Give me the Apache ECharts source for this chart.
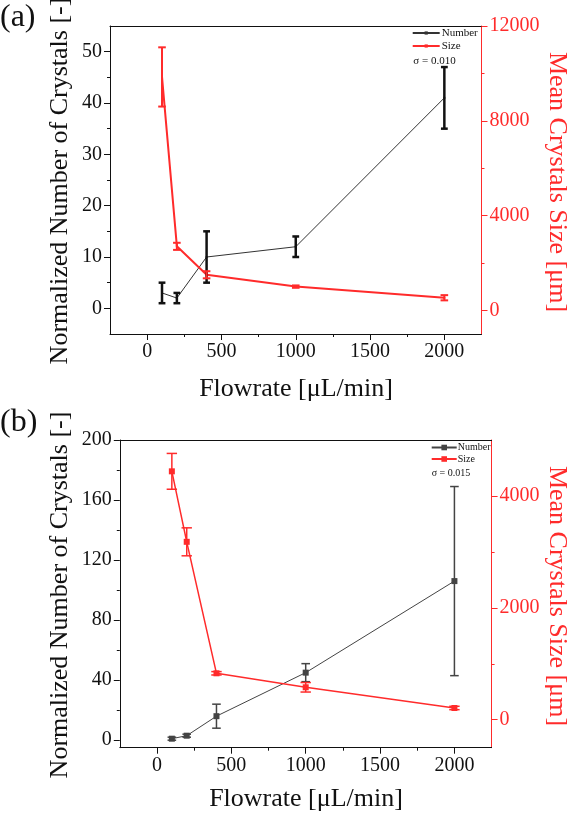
<!DOCTYPE html>
<html>
<head>
<meta charset="utf-8">
<script src="https://cdn.jsdelivr.net/npm/echarts@6/dist/echarts.min.js"></script>
<style>html,body{margin:0;padding:0;background:#fff}#c{width:569px;height:818px}</style>
</head>
<body>
<div id="c"></div>
<script>
// ---- data ----
const flow = [100, 200, 400, 1000, 2000];
// panel (a)
const numA = [3, 2, 10, 12, 41];
const numAErr = [2, 1, 5, 2, 6];
const sizeA = [9850, 2700, 1500, 1000, 530];
const sizeAErr = [1250, 150, 150, 50, 110];
// panel (b)
const numB = [1, 3, 16, 45, 106];
const numBErr = [1, 1, 8, 6, 63];
const sizeB = [4440, 3180, 830, 580, 210];
const sizeBErr = [320, 250, 30, 85, 30];
// ticks
const xTicks = [0, 500, 1000, 1500, 2000];
const xMinor = [250, 750, 1250, 1750];
const yTicksA = [0, 10, 20, 30, 40, 50];
const yMinorA = [5, 15, 25, 35, 45];
const y2TicksA = [0, 4000, 8000, 12000];
const y2MinorA = [2000, 6000, 10000];
const yTicksB = [0, 40, 80, 120, 160, 200];
const yMinorB = [20, 60, 100, 140, 180];
const y2TicksB = [0, 2000, 4000];
const y2MinorB = [1000, 3000];

const RED = '#ff2b2b';
const INK = '#111111';
const FONT = 'Liberation Serif, Times New Roman, serif';
const plain = function (v) { return String(v); };

function xAx(grid, min, max, ticks, minor, kind) {
  const base = { type: 'value', gridIndex: grid, min: min, max: max, splitLine: { show: false } };
  if (kind === 'main') {
    return Object.assign(base, {
      position: 'bottom',
      axisLine: { show: true, onZero: false, lineStyle: { color: INK, width: 1 } },
      axisTick: { show: true, length: 6, customValues: ticks, lineStyle: { color: INK } },
      axisLabel: { show: true, customValues: ticks, formatter: plain, margin: 8, fontSize: 20, fontFamily: FONT, color: INK }
    });
  } else if (kind === 'minor') {
    return Object.assign(base, {
      position: 'bottom',
      axisLine: { show: false, onZero: false },
      axisTick: { show: true, length: 3, customValues: minor, lineStyle: { color: INK } },
      axisLabel: { show: false }
    });
  } else {
    return Object.assign(base, {
      position: 'top',
      axisLine: { show: true, onZero: false, lineStyle: { color: INK, width: 1 } },
      axisTick: { show: false }, axisLabel: { show: false }
    });
  }
}
function yAx(grid, min, max, ticks, minor, side, kind, color) {
  const base = { type: 'value', gridIndex: grid, min: min, max: max, position: side, splitLine: { show: false } };
  if (kind === 'main') {
    return Object.assign(base, {
      axisLine: { show: true, onZero: false, lineStyle: { color: color, width: 1 } },
      axisTick: { show: true, length: 6, customValues: ticks, lineStyle: { color: color } },
      axisLabel: { show: true, customValues: ticks, formatter: plain, margin: 8, fontSize: 20, fontFamily: FONT, color: color }
    });
  }
  return Object.assign(base, {
    axisLine: { show: false, onZero: false },
    axisTick: { show: true, length: 3, customValues: minor, lineStyle: { color: color } },
    axisLabel: { show: false }
  });
}

function errSeries(xi, yi, vals, errs, color, width, cap) {
  return {
    type: 'custom', xAxisIndex: xi, yAxisIndex: yi, z: 5, silent: true,
    data: flow.map((x, i) => [x, vals[i] - errs[i], vals[i] + errs[i]]),
    encode: { x: 0, y: [1, 2] },
    renderItem: function (params, api) {
      const lo = api.coord([api.value(0), api.value(1)]);
      const hi = api.coord([api.value(0), api.value(2)]);
      const st = { stroke: color, lineWidth: width, fill: null };
      return {
        type: 'group', children: [
          { type: 'line', shape: { x1: lo[0], y1: lo[1], x2: hi[0], y2: hi[1] }, style: st },
          { type: 'line', shape: { x1: lo[0] - cap, y1: lo[1], x2: lo[0] + cap, y2: lo[1] }, style: st },
          { type: 'line', shape: { x1: hi[0] - cap, y1: hi[1], x2: hi[0] + cap, y2: hi[1] }, style: st }
        ]
      };
    }
  };
}
function pairs(vals) { return flow.map((x, i) => [x, vals[i]]); }

const chart = echarts.init(document.getElementById('c'), null, { renderer: 'canvas' });
const option = {
  animation: false,
  backgroundColor: '#fff',
  grid: [
    { left: 110, top: 26, width: 371.5, height: 308, containLabel: false, show: false },
    { left: 119.8, top: 440, width: 371.8, height: 307.7, containLabel: false, show: false }
  ],
  xAxis: [
    xAx(0, -250, 2250, xTicks, xMinor, 'main'),
    xAx(0, -250, 2250, xTicks, xMinor, 'minor'),
    xAx(0, -250, 2250, xTicks, xMinor, 'top'),
    xAx(1, -250, 2250, xTicks, xMinor, 'main'),
    xAx(1, -250, 2250, xTicks, xMinor, 'minor'),
    xAx(1, -250, 2250, xTicks, xMinor, 'top')
  ],
  yAxis: [
    yAx(0, -5, 55, yTicksA, yMinorA, 'left', 'main', INK),
    yAx(0, -5, 55, yTicksA, yMinorA, 'left', 'minor', INK),
    yAx(0, -1000, 12000, y2TicksA, y2MinorA, 'right', 'main', RED),
    yAx(0, -1000, 12000, y2TicksA, y2MinorA, 'right', 'minor', RED),
    yAx(1, -5, 200, yTicksB, yMinorB, 'left', 'main', INK),
    yAx(1, -5, 200, yTicksB, yMinorB, 'left', 'minor', INK),
    yAx(1, -500, 5000, y2TicksB, y2MinorB, 'right', 'main', RED),
    yAx(1, -500, 5000, y2TicksB, y2MinorB, 'right', 'minor', RED)
  ],
  legend: [
    {
      data: ['Number', 'Size'], orient: 'vertical', left: 411.7, top: 27.5, padding: 0,
      itemWidth: 27, itemHeight: 4, itemGap: 2, selectedMode: false,
      textStyle: { fontSize: 11, fontFamily: FONT, color: INK, padding: [0, 0, 0, -3] }
    },
    {
      data: ['Number_b', 'Size_b'], orient: 'vertical', left: 430.7, top: 442.5, padding: 0,
      itemWidth: 25, itemHeight: 7, itemGap: 1.5, selectedMode: false,
      formatter: function (n) { return n.replace('_b', ''); },
      textStyle: { fontSize: 10, fontFamily: FONT, color: INK, padding: [0, 0, 0, -4] }
    }
  ],
  series: [
    { name: 'Number', type: 'line', xAxisIndex: 0, yAxisIndex: 0, data: pairs(numA),
      symbol: 'rect', symbolSize: 2, lineStyle: { color: '#333', width: 1 }, itemStyle: { color: '#333' } },
    { name: 'Size', type: 'line', xAxisIndex: 0, yAxisIndex: 2, data: pairs(sizeA),
      symbol: 'rect', symbolSize: 2, lineStyle: { color: RED, width: 2 }, itemStyle: { color: RED } },
    errSeries(0, 0, numA, numAErr, INK, 2.5, 3.4),
    errSeries(0, 2, sizeA, sizeAErr, RED, 2, 3.8),
    { name: 'Number_b', type: 'line', xAxisIndex: 3, yAxisIndex: 4, data: pairs(numB),
      symbol: 'rect', symbolSize: 6, lineStyle: { color: '#444', width: 1 }, itemStyle: { color: '#444' } },
    { name: 'Size_b', type: 'line', xAxisIndex: 3, yAxisIndex: 6, data: pairs(sizeB),
      symbol: 'rect', symbolSize: 6, lineStyle: { color: RED, width: 1.5 }, itemStyle: { color: RED } },
    errSeries(3, 4, numB, numBErr, '#444', 1.5, 4.3),
    errSeries(3, 6, sizeB, sizeBErr, RED, 1.5, 5.2)
  ],
  graphic: [
    { type: 'text', left: 0, top: 2, style: { text: '(a)', font: '32px ' + FONT, fill: INK } },
    { type: 'text', left: 0, top: 407, style: { text: '(b)', font: '32px ' + FONT, fill: INK } },
    { type: 'text', x: 60, y: 181, rotation: Math.PI / 2,
      style: { text: 'Normalized Number of Crystals [-]', font: '26px ' + FONT, fill: INK, align: 'center', verticalAlign: 'middle' } },
    { type: 'text', x: 557, y: 182, rotation: -Math.PI / 2,
      style: { text: 'Mean Crystals Size [μm]', font: '26px ' + FONT, fill: RED, align: 'center', verticalAlign: 'middle' } },
    { type: 'text', x: 296, y: 389,
      style: { text: 'Flowrate [μL/min]', font: '26px ' + FONT, fill: INK, align: 'center', verticalAlign: 'middle' } },
    { type: 'text', x: 60, y: 595, rotation: Math.PI / 2,
      style: { text: 'Normalized Number of Crystals [-]', font: '26px ' + FONT, fill: INK, align: 'center', verticalAlign: 'middle' } },
    { type: 'text', x: 557, y: 596, rotation: -Math.PI / 2,
      style: { text: 'Mean Crystals Size [μm]', font: '26px ' + FONT, fill: RED, align: 'center', verticalAlign: 'middle' } },
    { type: 'text', x: 306, y: 799,
      style: { text: 'Flowrate [μL/min]', font: '26px ' + FONT, fill: INK, align: 'center', verticalAlign: 'middle' } },
    { type: 'text', x: 413.3, y: 60.7,
      style: { text: 'σ = 0.010', font: '11px ' + FONT, fill: INK, align: 'left', verticalAlign: 'middle' } },
    { type: 'text', x: 431.7, y: 473.3,
      style: { text: 'σ = 0.015', font: '10px ' + FONT, fill: INK, align: 'left', verticalAlign: 'middle' } }
  ]
};
chart.setOption(option);
</script>
</body>
</html>
